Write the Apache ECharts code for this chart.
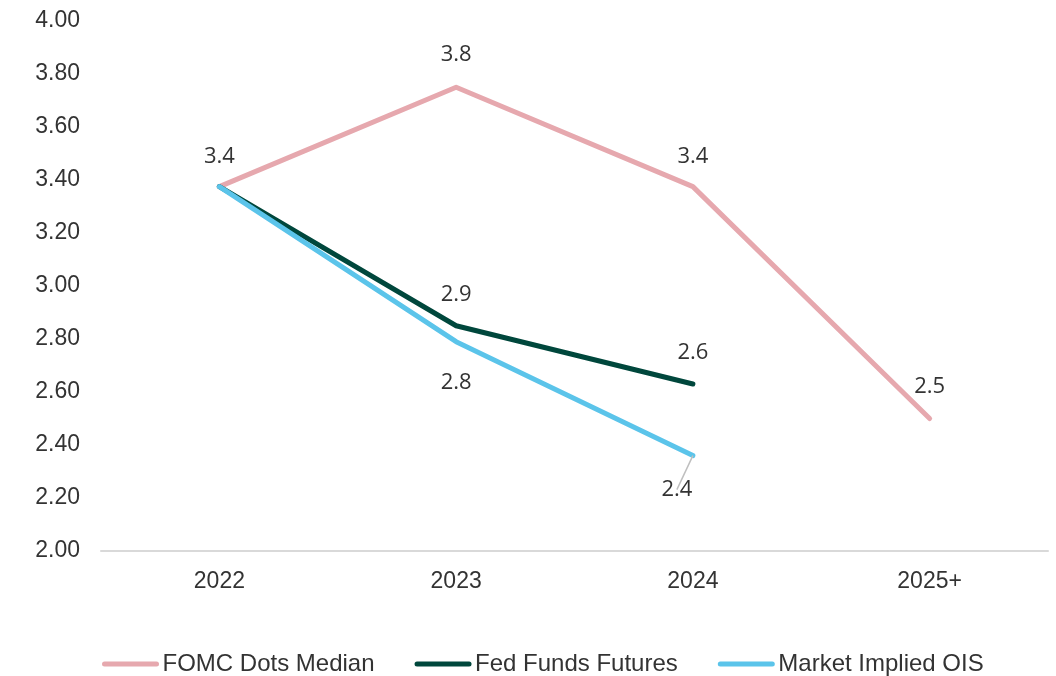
<!DOCTYPE html>
<html>
<head>
<meta charset="utf-8">
<script src="https://cdn.jsdelivr.net/npm/echarts@6/dist/echarts.min.js"></script>
<style>html,body{margin:0;padding:0;background:#fff}#c{width:1056px;height:676px}</style>
</head>
<body>
<div id="c"></div>
<script>
const categories = ['2022', '2023', '2024', '2025+'];
const fomcDots = [3.375, 3.75, 3.375, 2.5];
const fedFunds = [3.375, 2.85, 2.63, null];
const marketOIS = [3.375, 2.79, 2.36, null];
const yTicks = ['2.00','2.20','2.40','2.60','2.80','3.00','3.20','3.40','3.60','3.80','4.00'];

const labelFont = {fontFamily: 'Open Sans', fontSize: 22, color: '#333'};
const fmt = p => p.value == null ? '' : Number(p.value).toFixed(1);
const legendIcon = 'path://M2.5,0 H54.5 A2.5,2.5 0 0 1 54.5,5 H2.5 A2.5,2.5 0 0 1 2.5,0 Z';

const chart = echarts.init(document.getElementById('c'));
chart.setOption({
  animation: false,
  backgroundColor: '#fff',
  grid: {left: 101, right: 8, top: 21, bottom: 125},
  legend: {
    left: 97, top: 647, itemWidth: 58, itemHeight: 5, itemGap: 40,
    icon: legendIcon,
    textStyle: {fontFamily: 'Liberation Sans', fontSize: 24, color: '#333', padding: [0,0,0,-2]},
    data: ['FOMC Dots Median', 'Fed Funds Futures', 'Market Implied OIS']
  },
  xAxis: {
    type: 'category', data: categories, boundaryGap: true,
    axisLine: {lineStyle: {color: '#D9D9D9', width: 2}},
    axisTick: {show: false},
    axisLabel: {fontFamily: 'Liberation Sans', fontSize: 23, color: '#333', margin: 19}
  },
  yAxis: {
    type: 'value', min: 2, max: 4, interval: 0.2,
    axisLine: {show: false}, axisTick: {show: false}, splitLine: {show: false},
    axisLabel: {fontFamily: 'Liberation Sans', fontSize: 23, color: '#333', margin: 21,
      formatter: (v) => yTicks[Math.round((v - 2) / 0.2)]}
  },
  series: [
    {
      name: 'FOMC Dots Median', type: 'line', color: '#E6A8AE',
      symbol: 'circle', symbolSize: 0, z: 2,
      data: [
        {value: fomcDots[0]},
        {value: fomcDots[1], label: {distance: 22}},
        {value: fomcDots[2]},
        {value: fomcDots[3], label: {distance: 21}}
      ],
      lineStyle: {width: 5, cap: 'round', join: 'round'},
      label: Object.assign({show: true, position: 'top', distance: 19, formatter: fmt}, labelFont)
    },
    {
      name: 'Fed Funds Futures', type: 'line', data: fedFunds, color: '#00473C',
      symbol: 'circle', symbolSize: 0, z: 3,
      lineStyle: {width: 5, cap: 'round', join: 'round'},
      label: Object.assign({show: true, position: 'top', distance: 20,
        formatter: p => p.dataIndex === 0 ? '' : fmt(p)}, labelFont)
    },
    {
      name: 'Market Implied OIS', type: 'line', color: '#5BC4EA',
      symbol: 'circle', symbolSize: 0, z: 4,
      data: [
        {value: marketOIS[0]},
        {value: marketOIS[1]},
        {value: marketOIS[2], label: {offset: [-16, -55], padding: [48, 0, 0, 0]},
          labelLine: {show: true, length2: 0, lineStyle: {color: '#BFBFBF', width: 1.5}}},
        {value: marketOIS[3]}
      ],
      lineStyle: {width: 5, cap: 'round', join: 'round'},
      label: Object.assign({show: true, position: 'bottom', distance: 30,
        formatter: p => p.dataIndex === 0 ? '' : fmt(p)}, labelFont)
    }
  ]
});
</script>
</body>
</html>
